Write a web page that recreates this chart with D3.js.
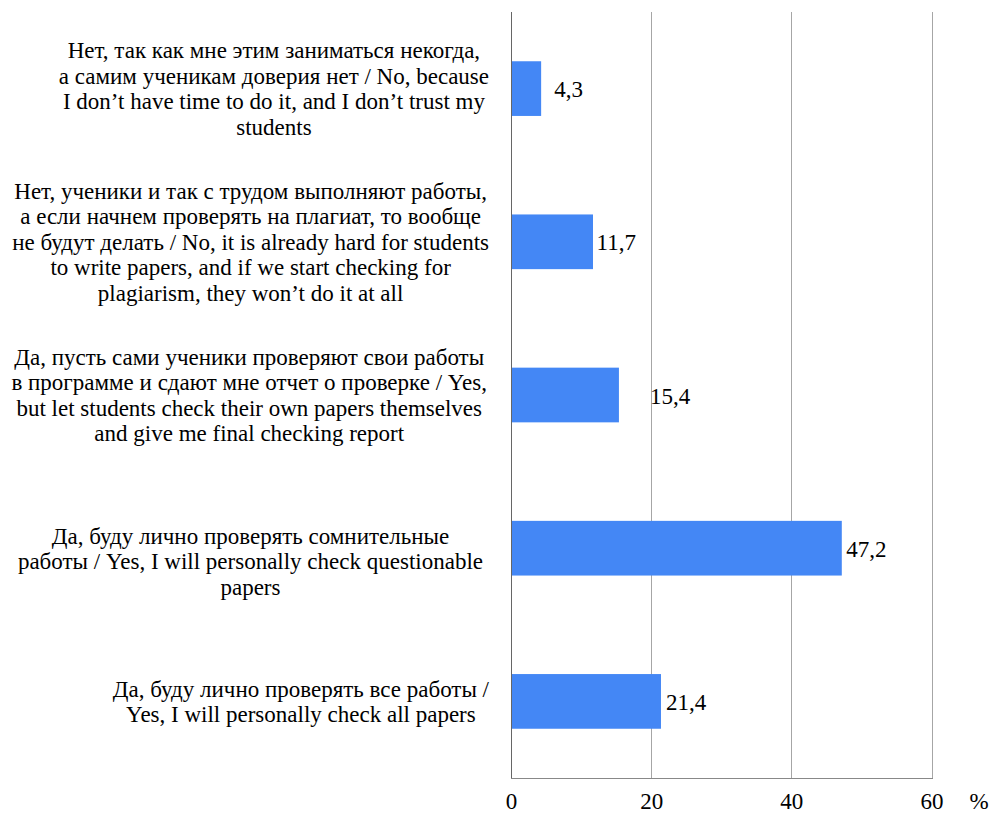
<!DOCTYPE html>
<html>
<head>
<meta charset="utf-8">
<script src="https://cdn.jsdelivr.net/npm/d3@7"></script>
<style>
  html, body { margin: 0; padding: 0; background: #fff; }
  svg { display: block; }
</style>
</head>
<body>
<svg id="chart" width="990" height="815"></svg>
<script>
// ---- data ----
const categories = [
  ["Нет, так как мне этим заниматься некогда,", "а самим ученикам доверия нет / No, because", "I don’t have time to do it, and I don’t trust my", "students"],
  ["Нет, ученики и так с трудом выполняют работы,", "а если начнем проверять на плагиат, то вообще", "не будут делать / No, it is already hard for students", "to write papers, and if we start checking for", "plagiarism, they won’t do it at all"],
  ["Да, пусть сами ученики проверяют свои работы", "в программе и сдают мне отчет о проверке / Yes,", "but let students check their own papers themselves", "and give me final checking report"],
  ["Да, буду лично проверять сомнительные", "работы / Yes, I will personally check questionable", "papers"],
  ["Да, буду лично проверять все работы /", "Yes, I will personally check all papers"]
];
const values = [4.3, 11.7, 15.4, 47.2, 21.4];
const valueLabels = ["4,3", "11,7", "15,4", "47,2", "21,4"];
const xTicks = [0, 20, 40, 60];
const xUnit = "%";

// ---- layout ----
const M = { left: 511, right: 931.5, top: 12, bottom: 778 };
const labelRight = [489, 489, 487, 483, 489];
const labelDy = [0, 0, 0, 13, 0];
const FONT = "'Liberation Serif', 'Times New Roman', Tinos, serif";
const fontSize = 23, lineHeight = 25.5;
const labelNudge = [8, -1.5, 26, -0.5, 0]; // extra px between bar end and value label

const svg = d3.select("#chart");
const ids = categories.map((c, i) => i);

const x = d3.scaleLinear().domain([0, 60]).range([M.left, M.right]);
const y = d3.scaleBand().domain(ids).range([M.top, M.bottom]).paddingInner(0.643).paddingOuter(0.3215);

function styleText(sel) {
  return sel.attr("font-family", FONT).style("font-family", FONT)
    .style("font-size", fontSize + "px").attr("fill", "#000");
}

// gridlines
svg.append("g").selectAll("line").data(xTicks.filter(t => t > 0)).join("line")
  .attr("x1", d => Math.round(x(d)) + 0.5).attr("x2", d => Math.round(x(d)) + 0.5)
  .attr("y1", M.top).attr("y2", M.bottom)
  .attr("stroke", "#a6a6a6").attr("stroke-width", 1);

// bars
svg.append("g").selectAll("rect").data(ids).join("rect")
  .attr("x", x(0)).attr("y", d => y(d))
  .attr("width", d => x(values[d]) - x(0))
  .attr("height", y.bandwidth())
  .attr("fill", "#4487f5");

// axes lines
svg.append("line").attr("x1", Math.round(x(0)) + 0.5).attr("x2", Math.round(x(0)) + 0.5)
  .attr("y1", M.top).attr("y2", M.bottom + 0.5).attr("stroke", "#666").attr("stroke-width", 1);
svg.append("line").attr("x1", x(0)).attr("x2", Math.round(x(60)) + 1)
  .attr("y1", M.bottom + 0.5).attr("y2", M.bottom + 0.5).attr("stroke", "#888").attr("stroke-width", 1);

// x tick labels
const xAxis = d3.axisBottom(x).tickValues(xTicks).tickSize(0).tickPadding(0).tickFormat(d3.format("d"));
const gx = svg.append("g").attr("transform", `translate(0,${M.bottom})`).call(xAxis);
gx.select(".domain").remove();
gx.attr("font-family", FONT).attr("font-size", fontSize);
styleText(gx.selectAll("text").attr("dy", null).attr("y", 31));
styleText(svg.append("text").attr("x", 979).attr("y", M.bottom + 31).attr("text-anchor", "middle").text(xUnit));

// value labels
styleText(svg.append("g").selectAll("text").data(ids).join("text")
  .attr("x", d => x(values[d]) + 5 + labelNudge[d])
  .attr("y", d => y(d) + y.bandwidth() / 2 + 8.5)
  .text(d => valueLabels[d]));

// category labels: block right-aligned, lines centered within block
const lg = svg.append("g");
ids.forEach(i => {
  const lines = categories[i];
  const cy = y(i) + y.bandwidth() / 2 + labelDy[i];
  const g = lg.append("g");
  const n = lines.length;
  const texts = styleText(g.selectAll("text").data(lines).join("text")
    .attr("y", (d, k) => cy + 8 + (k - (n - 1) / 2) * lineHeight)
    .attr("text-anchor", "middle")
    .text(d => d));
  let maxW = 0;
  texts.each(function() { maxW = Math.max(maxW, this.getComputedTextLength()); });
  texts.attr("x", labelRight[i] - maxW / 2);
});
</script>
</body>
</html>
